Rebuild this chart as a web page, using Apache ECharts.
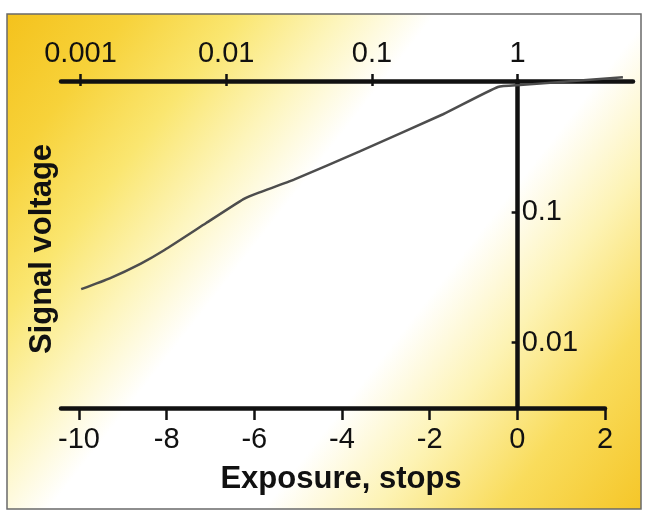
<!DOCTYPE html>
<html>
<head>
<meta charset="utf-8">
<script src="https://cdn.jsdelivr.net/npm/echarts@6/dist/echarts.min.js"></script>
<style>html,body{margin:0;padding:0;background:#fff}#c{width:645px;height:512px}</style>
</head>
<body>
<div id="c"></div>
<script>
// Data
const exposureStops = [-9.95, -9.3, -8.6, -8.05, -7.1, -6.25, -5.9, -5.1, -3.6, -1.7, -0.45, 0.05, 2.4];
const signalVoltage = [0.0256, 0.031, 0.040, 0.051, 0.082, 0.125, 0.140, 0.176, 0.29, 0.557, 0.90, 0.93, 1.07];
const bottomTicks = [-10, -8, -6, -4, -2, 0, 2];
const topTickLabels = ['0.001', '0.01', '0.1', '1'];
const xTitle = 'Exposure, stops';
const yTitle = 'Signal voltage';

const topTickVals = topTickLabels.map(s => Math.log2(parseFloat(s)));
const FONT = "'Liberation Sans Narrow', 'Liberation Sans', sans-serif";
const XMIN = -10.41, XMAX_TOP = 2.63, XMAX_BOTTOM = 2.0;
const GRID_LEFT = 61, GRID_RIGHT = 12, W = 645;
const gridWidth = W - GRID_LEFT - GRID_RIGHT;
// offset that places the vertical (signal) axis at exposure 0 via the x scale
const yAxisOffset = -((0 - XMIN) / (XMAX_TOP - XMIN)) * gridWidth;

const chart = echarts.init(document.getElementById('c'), null, {renderer: 'canvas'});
const axisLine = {lineStyle: {color: '#111', width: 4.5}};
chart.setOption({
  backgroundColor: '#ffffff',
  animation: false,
  graphic: [{
    type: 'rect', z: -10, silent: true,
    shape: {x: 7, y: 14, width: 634, height: 495},
    style: {
      fill: new echarts.graphic.LinearGradient(0, 0, 1, 1, [
        {offset: 0, color: '#f4c21c'},
        {offset: 0.12, color: '#f7d23a'},
        {offset: 0.23, color: '#fae670'},
        {offset: 0.33, color: '#fdf5bc'},
        {offset: 0.42, color: '#ffffff'},
        {offset: 0.63, color: '#ffffff'},
        {offset: 0.74, color: '#fdf3b4'},
        {offset: 0.86, color: '#f9dc5c'},
        {offset: 1, color: '#f5c628'}
      ]),
      stroke: '#6a6a6a', lineWidth: 1.5
    }
  }, {
    type: 'text', silent: true, x: 42, y: 249, rotation: Math.PI / 2,
    style: {text: yTitle, font: "bold 31px " + FONT, fill: '#111', align: 'center', verticalAlign: 'middle'}
  }],
  grid: [
    {left: GRID_LEFT, right: GRID_RIGHT, top: 81, bottom: 104},
    {left: GRID_LEFT, right: 40, top: 81, bottom: 104}
  ],
  xAxis: [{
    gridIndex: 0, type: 'value', position: 'top', min: XMIN, max: XMAX_TOP,
    axisLine: Object.assign({onZero: false}, axisLine),
    splitLine: {show: false},
    axisTick: {customValues: topTickVals, length: 7, lineStyle: {color: '#111', width: 2.5}},
    axisLabel: {
      customValues: topTickVals, margin: 13, color: '#111', fontSize: 29, fontFamily: FONT,
      formatter: v => { const i = topTickVals.findIndex(t => Math.abs(t - v) < 1e-6); return i >= 0 ? topTickLabels[i] : ''; }
    }
  }, {
    gridIndex: 1, type: 'value', position: 'bottom', min: XMIN, max: XMAX_BOTTOM,
    axisLine: Object.assign({onZero: false}, axisLine),
    splitLine: {show: false},
    axisTick: {customValues: bottomTicks, length: 12, lineStyle: {color: '#111', width: 2.5}},
    axisLabel: {customValues: bottomTicks, margin: 17, color: '#111', fontSize: 29, fontFamily: FONT},
    name: xTitle, nameLocation: 'middle', nameGap: 56,
    nameTextStyle: {color: '#111', fontSize: 31, fontWeight: 'bold', fontFamily: FONT, padding: [0, 0, 0, 16]}
  }, {
    // inner half of the crossing ticks on the top axis
    gridIndex: 0, type: 'value', position: 'top', min: XMIN, max: XMAX_TOP,
    axisLine: {show: false, onZero: false}, splitLine: {show: false}, axisLabel: {show: false},
    axisTick: {inside: true, customValues: topTickVals, length: 5, lineStyle: {color: '#111', width: 2.5}}
  }],
  yAxis: [{
    gridIndex: 0, type: 'log', logBase: 10, min: Math.pow(10, -2.5), max: 1, position: 'left',
    offset: yAxisOffset,
    axisLine: Object.assign({onZero: false}, axisLine),
    splitLine: {show: false},
    axisTick: {length: 6, lineStyle: {color: '#111', width: 2.5}},
    axisLabel: {inside: true, margin: 4, showMinLabel: false, showMaxLabel: false, color: '#111', fontSize: 29, fontFamily: FONT}
  }, {
    gridIndex: 1, type: 'value', show: false
  }],
  series: [{
    type: 'line', xAxisIndex: 0, yAxisIndex: 0, clip: false,
    data: exposureStops.map((x, i) => [x, signalVoltage[i]]),
    symbol: 'none', smooth: 0.15,
    lineStyle: {color: '#4d4d4d', width: 2.5}, z: 1
  }]
});
</script>
</body>
</html>
